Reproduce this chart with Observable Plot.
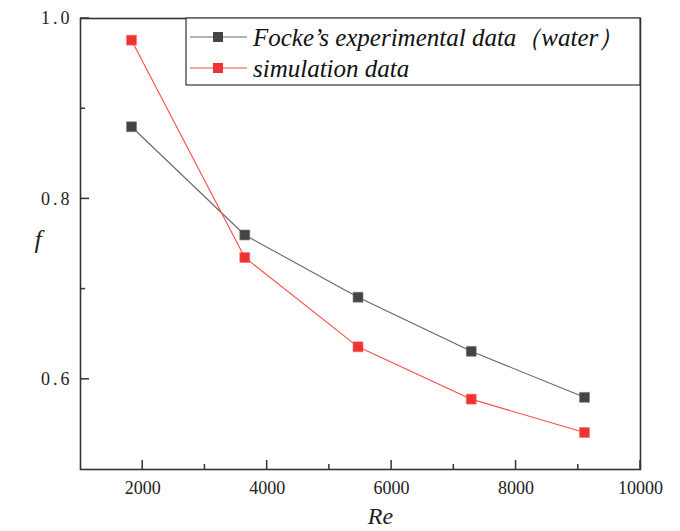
<!DOCTYPE html>
<html>
<head>
<meta charset="utf-8">
<script src="https://cdn.jsdelivr.net/npm/d3@7"></script>
<script src="https://cdn.jsdelivr.net/npm/@observablehq/plot@0.6"></script>
<style>
  html, body { margin: 0; padding: 0; background: #fff; }
  #chart { position: relative; width: 680px; height: 531px; }
  #chart svg text { font-family: "Liberation Serif", "DejaVu Serif", serif !important; }
</style>
</head>
<body>
<div id="chart"></div>
<script>
const reynolds = [1820, 3640, 5460, 7280, 9100];
const fockeValues = [0.880, 0.760, 0.691, 0.631, 0.580];
const simValues = [0.976, 0.735, 0.636, 0.578, 0.541];
const seriesNames = ["Focke\u2019s experimental data\uFF08water\uFF09", "simulation data"];
const xMajorTicks = [2000, 4000, 6000, 8000, 10000];
const xMinorTicks = [3000, 5000, 7000, 9000];
const yMajorTicks = [0.6, 0.8, 1.0];
const yMinorTicks = [0.7, 0.9];
const xTitle = "Re";
const yTitle = "f";

const colors = {focke: "#444444", fockeLine: "#666666", sim: "#ee3333", simLine: "#ff4a4a"};
const fockeRows = reynolds.map((re, i) => ({re, f: fockeValues[i], s: seriesNames[0]}));
const simRows = reynolds.map((re, i) => ({re, f: simValues[i], s: seriesNames[1]}));

const serif = "Liberation Serif";
const axisStroke = "#333";

const plot = Plot.plot({
  width: 680,
  height: 531,
  marginLeft: 80,
  marginRight: 40,
  marginTop: 18,
  marginBottom: 62,
  x: {domain: [1000, 10000]},
  y: {domain: [0.5, 1.0]},
  marks: [
    Plot.axisX(xMajorTicks, {tickSize: 0, tickPadding: 12, tickFormat: d => String(d), label: null, fill: "#222", fontSize: 18, fontFamily: serif}),
    Plot.axisY(yMajorTicks, {tickSize: 0, tickPadding: 8, tickFormat: d => d.toFixed(1), label: null, fill: "#222", fontSize: 18, fontFamily: serif}),
    Plot.line(fockeRows, {x: "re", y: "f", stroke: colors.fockeLine, strokeWidth: 1.1}),
    Plot.line(simRows, {x: "re", y: "f", stroke: colors.simLine, strokeWidth: 1.1}),
    Plot.dot(fockeRows, {x: "re", y: "f", symbol: "square", r: 5.6, fill: colors.focke, stroke: "#777", strokeWidth: 0.6}),
    Plot.dot(simRows, {x: "re", y: "f", symbol: "square", r: 5.6, fill: colors.sim, stroke: "#f66", strokeWidth: 0.6}),
    Plot.text([xTitle], {frameAnchor: "bottom", dx: 20, dy: 54, fontStyle: "italic", fontSize: 24, fontFamily: serif, fill: "#222"}),
    Plot.text([yTitle], {frameAnchor: "left", dx: -46, dy: -4, fontStyle: "italic", fontSize: 26, fontFamily: serif, fill: "#222"}),
    Plot.frame({stroke: axisStroke, strokeWidth: 1.6})
  ]
});

document.getElementById("chart").appendChild(plot);

const svg = d3.select(plot);
const xs = plot.scale("x"), ys = plot.scale("y");
const [xl, xr] = xs.range, [yb, yt] = ys.range;

// widen the y tick labels' period like the original CJK font
svg.selectAll("text").filter(function () { return /^\d\.\d$/.test(this.textContent); })
  .style("letter-spacing", "3px");

// inward ticks via the plot's own scales
const tg = svg.append("g").attr("stroke", axisStroke).attr("stroke-width", 1.5);
const xt = [...xMajorTicks.map(v => [v, 9]), ...xMinorTicks.map(v => [v, 5])];
xt.forEach(([v, len]) => {
  const px = xs.apply(v);
  tg.append("line").attr("x1", px).attr("x2", px).attr("y1", yb).attr("y2", yb - len);
});
const yt2 = [...yMajorTicks.map(v => [v, 9]), ...yMinorTicks.map(v => [v, 5])];
yt2.forEach(([v, len]) => {
  const py = ys.apply(v);
  tg.append("line").attr("x1", xl).attr("x2", xl + len).attr("y1", py).attr("y2", py);
});

// Legend inside the plot frame (top-right)
const x0 = 186, y0 = yt, w = xr - 186, h = 67;
const g = svg.append("g").attr("text-anchor", "start");
g.append("rect").attr("x", x0).attr("y", y0).attr("width", w).attr("height", h)
  .attr("fill", "#fff").attr("stroke", axisStroke).attr("stroke-width", 1.2);
const items = [
  {name: seriesNames[0], line: colors.fockeLine, fill: colors.focke, y: 37},
  {name: seriesNames[1], line: colors.simLine, fill: colors.sim, y: 68}
];
items.forEach(it => {
  g.append("line").attr("x1", 190).attr("x2", 247).attr("y1", it.y).attr("y2", it.y)
    .attr("stroke", it.line).attr("stroke-width", 1.1);
  g.append("rect").attr("x", 213).attr("y", it.y - 5).attr("width", 10).attr("height", 10)
    .attr("fill", it.fill);
  g.append("text").attr("x", 253).attr("y", it.y).attr("dy", "0.35em")
    .attr("font-size", 25).attr("font-style", "italic").attr("fill", "#111")
    .attr("text-anchor", "start").text(it.name);
});
</script>
</body>
</html>
